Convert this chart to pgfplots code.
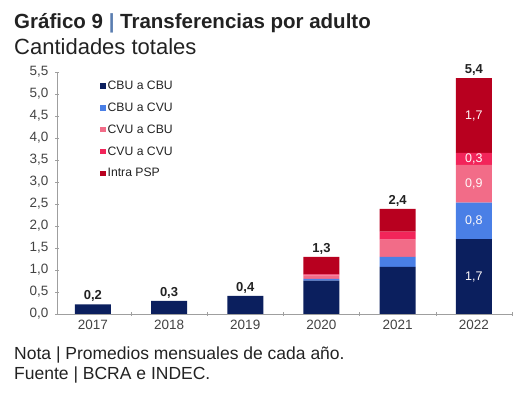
\documentclass[border=0pt]{standalone}
\usepackage{pgfplots}
\pgfplotsset{compat=1.18}
\usepackage{fontspec}
\setmainfont{Liberation Sans}
\definecolor{c1}{HTML}{0B1F5E}
\definecolor{c2}{HTML}{4A7FE6}
\definecolor{c3}{HTML}{F26C88}
\definecolor{c4}{HTML}{F2255A}
\definecolor{c5}{HTML}{B8001F}
\definecolor{txt}{HTML}{222222}
\definecolor{pipe}{HTML}{5A7DB0}
\pgfplotsset{sq/.style={legend image code/.code={\fill[##1] (0pt,-2.7pt) rectangle (5.4pt,2.7pt);}}}
\begin{document}
\begin{tikzpicture}
\useasboundingbox (0,0) rectangle (527pt,393pt);
\node[anchor=base west, inner sep=0, text=txt, font=\bfseries\fontsize{20.5}{23}\selectfont] at (14pt,364pt) {Gráfico 9 {\color{pipe}|} Transferencias por adulto};
\node[anchor=base west, inner sep=0, text=txt, font=\fontsize{22}{26}\selectfont] at (14pt,338pt) {Cantidades totales};
\node[anchor=base west, inner sep=0, text=txt, font=\fontsize{17.5}{20}\selectfont] at (14pt,33pt) {Nota | Promedios mensuales de cada año.};
\node[anchor=base west, inner sep=0, text=txt, font=\fontsize{17.5}{20}\selectfont] at (14pt,13pt) {Fuente | BCRA e INDEC.};
\pgfplotsset{common/.style={
  at={(57pt,79pt)}, anchor=south west, scale only axis,
  width=455pt, height=242pt,
  xmin=-0.47, xmax=5.5, ymin=0, ymax=5.5}}
\begin{axis}[
  common,
  ybar stacked, bar width=36pt,
  axis x line=bottom, axis y line=left,
  axis line style={-, draw=gray!75, line width=0.6pt},
  xtick={0,1,2,3,4,5},
  xticklabels={2017,2018,2019,2020,2021,2022},
  major x tick style={draw=none},
  minor xtick={0.5,1.5,2.5,3.5,4.5,5.5},
  minor x tick style={draw=gray!75},
  minor tick length=4pt,
  ytick={0,0.5,...,5.5},
  major tick length=4pt,
  ytick style={draw=gray!75},
  tick align=center,
  yticklabel={\pgfmathprintnumber[use comma, fixed, fixed zerofill, precision=1, assume math mode=true]{\tick}},
  ticklabel style={font=\fontsize{13.5}{15}\selectfont, text=txt!85},
  xticklabel style={yshift=-1pt},
  yticklabel style={xshift=-3pt},
  legend style={at={(0.088,0.98)}, anchor=north west, draw=none, fill=none,
    font=\fontsize{12.2}{14}\selectfont, text=txt, row sep=7.8pt,
    /tikz/every even column/.append style={column sep=2pt}},
  legend cell align=left,
  clip=false,
]
\addplot[fill=c1, draw=none, sq] coordinates {(0,0.22) (1,0.30) (2,0.41) (3,0.76) (4,1.07) (5,1.70)};
\addplot[fill=c2, draw=none, sq] coordinates {(0,0) (1,0) (2,0) (3,0.04) (4,0.23) (5,0.83)};
\addplot[fill=c3, draw=none, sq] coordinates {(0,0) (1,0) (2,0) (3,0.08) (4,0.39) (5,0.86)};
\addplot[fill=c4, draw=none, sq] coordinates {(0,0) (1,0) (2,0) (3,0.02) (4,0.18) (5,0.27)};
\addplot[fill=c5, draw=none, sq] coordinates {(0,0) (1,0) (2,0) (3,0.40) (4,0.52) (5,1.70)};
\legend{CBU a CBU, CBU a CVU, CVU a CBU, CVU a CVU, Intra PSP}
\end{axis}
\begin{axis}[common, hide axis, clip=false]
% totals above the stacks
\addplot[only marks, mark=none, nodes near coords, point meta=explicit symbolic,
  every node near coord/.append style={font=\bfseries\fontsize{13}{15}\selectfont, text=txt, anchor=south, inner sep=2.5pt}]
  coordinates {(0,0.22) [{0,2}] (1,0.30) [{0,3}] (2,0.41) [{0,4}] (3,1.30) [{1,3}] (4,2.39) [{2,4}] (5,5.36) [{5,4}]};
% segment values of 2022, at segment centres
\addplot[only marks, mark=none, nodes near coords, point meta=explicit symbolic,
  every node near coord/.append style={font=\fontsize{12.5}{14}\selectfont, text=white!92!pink, anchor=center}]
  coordinates {(5,0.85) [{1,7}] (5,2.115) [{0,8}] (5,2.96) [{0,9}] (5,3.525) [{0,3}] (5,4.51) [{1,7}]};
\end{axis}
\end{tikzpicture}
\end{document}
